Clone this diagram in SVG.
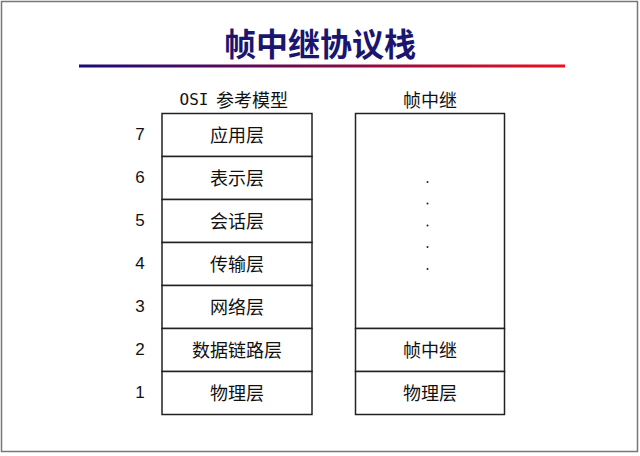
<svg xmlns="http://www.w3.org/2000/svg" width="640" height="456" viewBox="0 0 640 456">
<defs>
<linearGradient id="lg" x1="0" y1="0" x2="1" y2="0">
<stop offset="0" stop-color="#1c0a78"/>
<stop offset="0.5" stop-color="#7a0a4a"/>
<stop offset="1" stop-color="#ee1020"/>
</linearGradient>
<style>
.box{fill:#fff;stroke:#222;stroke-width:1.5}
.t{font-family:"Noto Sans CJK SC","Liberation Sans",sans-serif;font-size:18px;fill:#111;text-anchor:middle;dominant-baseline:central}
.n{font-family:"Liberation Sans","Noto Sans",sans-serif;font-size:17px;fill:#111;text-anchor:middle;dominant-baseline:central}
.dot{fill:#222}
</style>
</defs>
<rect x="0" y="0" width="640" height="456" fill="#fff"/>
<rect x="1.5" y="1.5" width="636" height="450" fill="none" stroke="#777" stroke-width="1.5"/>
<text x="320" y="42" font-family="Noto Sans CJK SC,sans-serif" font-size="32" font-weight="bold" fill="#1a1670" text-anchor="middle" dominant-baseline="central">帧中继协议栈</text>
<rect x="79" y="64.5" width="486" height="3" fill="url(#lg)"/>
<text class="t" x="194" y="99" style="font-family:'DejaVu Sans Mono','Liberation Mono',monospace;font-size:16px">OSI</text>
<text class="t" x="252" y="99">参考模型</text>
<text class="t" x="430" y="99">帧中继</text>
<g id="osi">
<g id="osi7"><rect class="box" x="162" y="113.5" width="150" height="43"/><text class="t" x="237" y="134">应用层</text><text class="n" x="140" y="134">7</text></g>
<g id="osi6"><rect class="box" x="162" y="156.5" width="150" height="43"/><text class="t" x="237" y="177">表示层</text><text class="n" x="140" y="177">6</text></g>
<g id="osi5"><rect class="box" x="162" y="199.5" width="150" height="43"/><text class="t" x="237" y="220">会话层</text><text class="n" x="140" y="220">5</text></g>
<g id="osi4"><rect class="box" x="162" y="242.5" width="150" height="43"/><text class="t" x="237" y="263">传输层</text><text class="n" x="140" y="263">4</text></g>
<g id="osi3"><rect class="box" x="162" y="285.5" width="150" height="43"/><text class="t" x="237" y="306">网络层</text><text class="n" x="140" y="306">3</text></g>
<g id="osi2"><rect class="box" x="162" y="328.5" width="150" height="43"/><text class="t" x="237" y="349">数据链路层</text><text class="n" x="140" y="349">2</text></g>
<g id="osi1"><rect class="box" x="162" y="371.5" width="150" height="43"/><text class="t" x="237" y="392">物理层</text><text class="n" x="140" y="392">1</text></g>
</g>
<g id="fr">
<g id="frupper"><rect class="box" x="355.5" y="113.5" width="149" height="215"/>
<circle class="dot" cx="427.5" cy="182" r="1"/><circle class="dot" cx="427.5" cy="203.5" r="1"/><circle class="dot" cx="427.5" cy="225.5" r="1"/><circle class="dot" cx="427.5" cy="247" r="1"/><circle class="dot" cx="427.5" cy="269" r="1"/></g>
<g id="fr2"><rect class="box" x="355.5" y="328.5" width="149" height="43"/><text class="t" x="430" y="349">帧中继</text></g>
<g id="fr1"><rect class="box" x="355.5" y="371.5" width="149" height="43"/><text class="t" x="430" y="392">物理层</text></g>
</g>
<g id="connectors"/>
</svg>
